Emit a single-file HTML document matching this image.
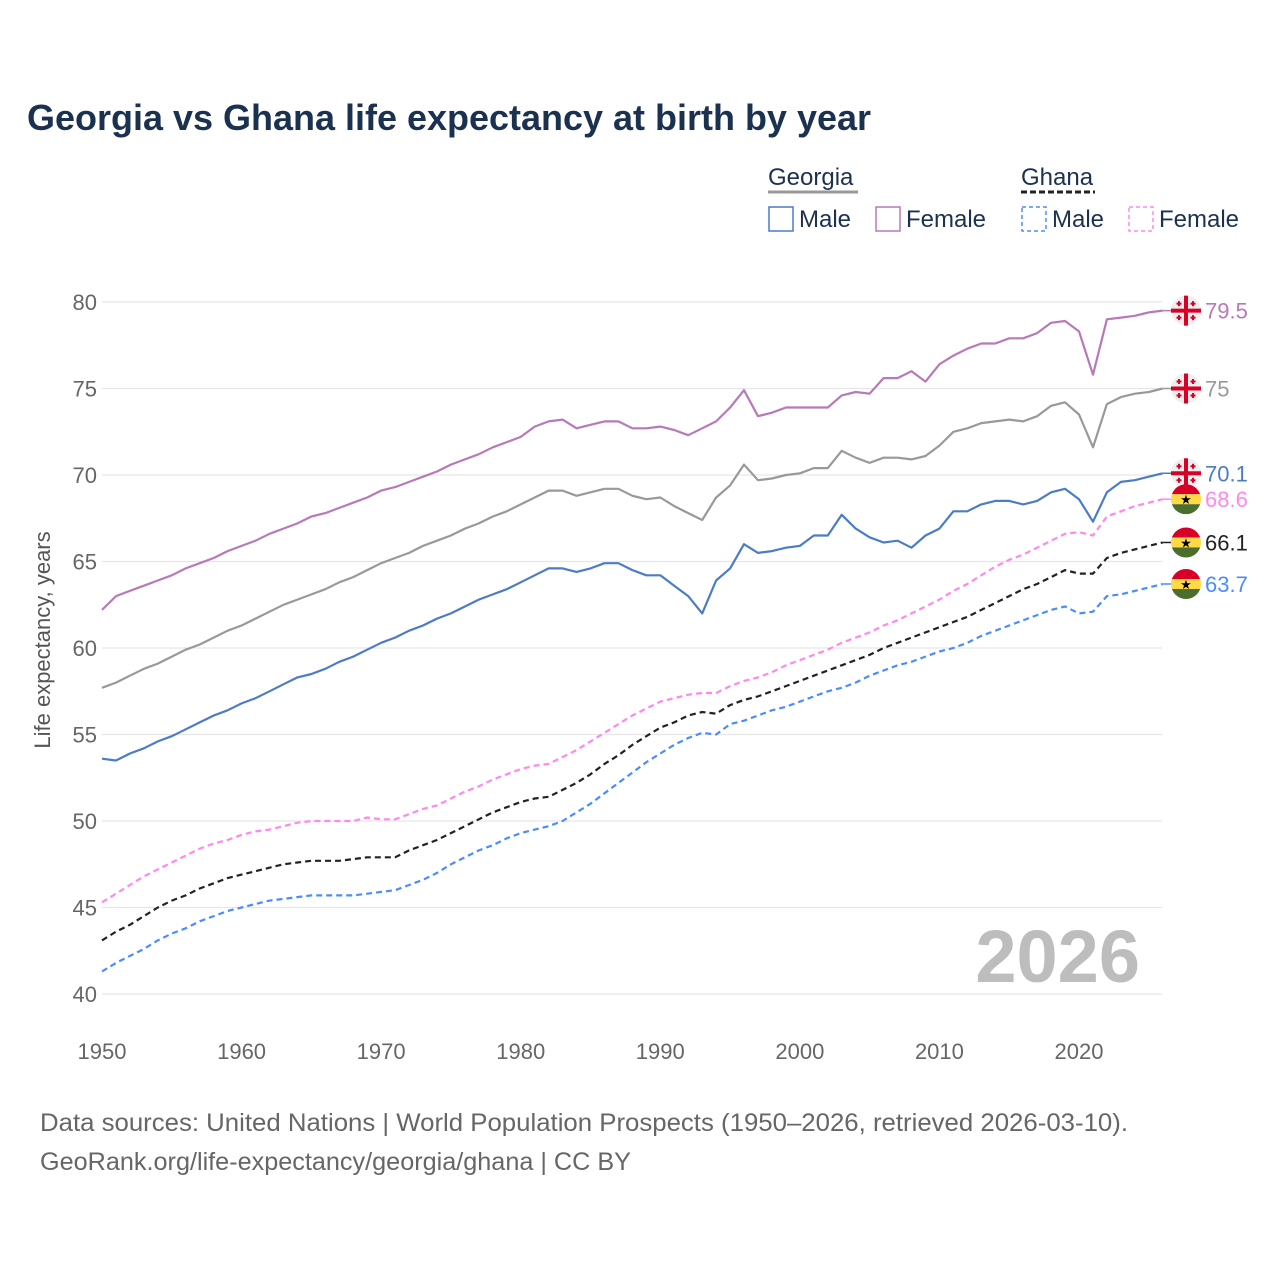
<!DOCTYPE html>
<html><head><meta charset="utf-8"><style>
body{margin:0;background:#fff;font-family:"Liberation Sans",sans-serif;}
svg text{font-family:"Liberation Sans",sans-serif;}
</style></head><body>
<svg id="chart" width="1280" height="1280" viewBox="0 0 1280 1280" xmlns="http://www.w3.org/2000/svg">
<rect width="1280" height="1280" fill="#fff"/>
<text x="27" y="130" font-size="36" font-weight="bold" fill="#1b3150" textLength="844" lengthAdjust="spacingAndGlyphs">Georgia vs Ghana life expectancy at birth by year</text>
<g font-size="24" fill="#1b3150">
<text x="768" y="185">Georgia</text>
<line x1="768" y1="192" x2="858" y2="192" stroke="#999" stroke-width="3"/>
<text x="1021" y="185">Ghana</text>
<line x1="1021" y1="192" x2="1095" y2="192" stroke="#222" stroke-width="3" stroke-dasharray="6,3"/>
<g><rect x="769" y="207" width="24" height="24" fill="none" stroke="#4a7cc7" stroke-width="1.5"/><text x="799" y="227">Male</text></g>
<g><rect x="876" y="207" width="24" height="24" fill="none" stroke="#b879b8" stroke-width="1.5"/><text x="906" y="227">Female</text></g>
<g><rect x="1022" y="207" width="24" height="24" fill="none" stroke="#4a8dff" stroke-width="1.5" stroke-dasharray="4,3"/><text x="1052" y="227">Male</text></g>
<g><rect x="1129" y="207" width="24" height="24" fill="none" stroke="#ff88ee" stroke-width="1.5" stroke-dasharray="4,3"/><text x="1159" y="227">Female</text></g>
</g>
<g id="grid"></g>
<g id="axes"></g>
<text x="1140" y="982" font-size="74" font-weight="bold" fill="#bdbdbd" text-anchor="end">2026</text>
<text transform="translate(50,640) rotate(-90)" font-size="22" fill="#555" text-anchor="middle">Life expectancy, years</text>
<g id="series"></g>
<g id="ends"></g>
<text x="40" y="1131" font-size="25" fill="#666" textLength="1088" lengthAdjust="spacingAndGlyphs">Data sources: United Nations | World Population Prospects (1950–2026, retrieved 2026-03-10).</text>
<text x="40" y="1170" font-size="25" fill="#666" textLength="591" lengthAdjust="spacingAndGlyphs">GeoRank.org/life-expectancy/georgia/ghana | CC BY</text>
</svg>
<script>
const startYear = 1950;
const endYear = 2026;
const yTicks = [40,45,50,55,60,65,70,75,80];
const xTicks = [1950,1960,1970,1980,1990,2000,2010,2020];
const georgiaFemale = [62.2,63.0,63.3,63.6,63.9,64.2,64.6,64.9,65.2,65.6,65.9,66.2,66.6,66.9,67.2,67.6,67.8,68.1,68.4,68.7,69.1,69.3,69.6,69.9,70.2,70.6,70.9,71.2,71.6,71.9,72.2,72.8,73.1,73.2,72.7,72.9,73.1,73.1,72.7,72.7,72.8,72.6,72.3,72.7,73.1,73.9,74.9,73.4,73.6,73.9,73.9,73.9,73.9,74.6,74.8,74.7,75.6,75.6,76.0,75.4,76.4,76.9,77.3,77.6,77.6,77.9,77.9,78.2,78.8,78.9,78.3,75.8,79.0,79.1,79.2,79.4,79.5];
const georgiaTotal = [57.7,58.0,58.4,58.8,59.1,59.5,59.9,60.2,60.6,61.0,61.3,61.7,62.1,62.5,62.8,63.1,63.4,63.8,64.1,64.5,64.9,65.2,65.5,65.9,66.2,66.5,66.9,67.2,67.6,67.9,68.3,68.7,69.1,69.1,68.8,69.0,69.2,69.2,68.8,68.6,68.7,68.2,67.8,67.4,68.7,69.4,70.6,69.7,69.8,70.0,70.1,70.4,70.4,71.4,71.0,70.7,71.0,71.0,70.9,71.1,71.7,72.5,72.7,73.0,73.1,73.2,73.1,73.4,74.0,74.2,73.5,71.6,74.1,74.5,74.7,74.8,75.0];
const georgiaMale = [53.6,53.5,53.9,54.2,54.6,54.9,55.3,55.7,56.1,56.4,56.8,57.1,57.5,57.9,58.3,58.5,58.8,59.2,59.5,59.9,60.3,60.6,61.0,61.3,61.7,62.0,62.4,62.8,63.1,63.4,63.8,64.2,64.6,64.6,64.4,64.6,64.9,64.9,64.5,64.2,64.2,63.6,63.0,62.0,63.9,64.6,66.0,65.5,65.6,65.8,65.9,66.5,66.5,67.7,66.9,66.4,66.1,66.2,65.8,66.5,66.9,67.9,67.9,68.3,68.5,68.5,68.3,68.5,69.0,69.2,68.6,67.3,69.0,69.6,69.7,69.9,70.1];
const ghanaFemale = [45.3,45.8,46.3,46.8,47.2,47.6,48.0,48.4,48.7,48.9,49.2,49.4,49.5,49.7,49.9,50.0,50.0,50.0,50.0,50.2,50.1,50.1,50.4,50.7,50.9,51.3,51.7,52.0,52.4,52.7,53.0,53.2,53.3,53.7,54.1,54.6,55.1,55.6,56.1,56.5,56.9,57.1,57.3,57.4,57.4,57.8,58.1,58.3,58.6,59.0,59.3,59.6,59.9,60.3,60.6,60.9,61.3,61.6,62.0,62.4,62.8,63.3,63.7,64.2,64.7,65.1,65.4,65.8,66.2,66.6,66.7,66.5,67.6,67.9,68.2,68.4,68.6];
const ghanaTotal = [43.1,43.6,44.0,44.5,45.0,45.4,45.7,46.1,46.4,46.7,46.9,47.1,47.3,47.5,47.6,47.7,47.7,47.7,47.8,47.9,47.9,47.9,48.3,48.6,48.9,49.3,49.7,50.1,50.5,50.8,51.1,51.3,51.4,51.8,52.2,52.7,53.3,53.8,54.4,54.9,55.4,55.7,56.1,56.3,56.2,56.7,57.0,57.2,57.5,57.8,58.1,58.4,58.7,59.0,59.3,59.6,60.0,60.3,60.6,60.9,61.2,61.5,61.8,62.2,62.6,63.0,63.4,63.7,64.1,64.5,64.3,64.3,65.2,65.5,65.7,65.9,66.1];
const ghanaMale = [41.3,41.8,42.2,42.6,43.1,43.5,43.8,44.2,44.5,44.8,45.0,45.2,45.4,45.5,45.6,45.7,45.7,45.7,45.7,45.8,45.9,46.0,46.3,46.6,47.0,47.5,47.9,48.3,48.6,49.0,49.3,49.5,49.7,50.0,50.5,51.0,51.6,52.2,52.8,53.4,53.9,54.4,54.8,55.1,55.0,55.6,55.8,56.1,56.4,56.6,56.9,57.2,57.5,57.7,58.0,58.4,58.7,59.0,59.2,59.5,59.8,60.0,60.3,60.7,61.0,61.3,61.6,61.9,62.2,62.4,62.0,62.1,63.0,63.1,63.3,63.5,63.7];

const NS="http://www.w3.org/2000/svg";
function xs(yr){return 102+(yr-1950)*(1079-102)/70;}
function ys(v){return 994-(v-40)*(994-302)/40;}
function mk(tag,attrs,parent){const e=document.createElementNS(NS,tag);for(const k in attrs)e.setAttribute(k,attrs[k]);parent.appendChild(e);return e;}
const grid=document.getElementById('grid'),axes=document.getElementById('axes'),series=document.getElementById('series'),ends=document.getElementById('ends');
yTicks.forEach(t=>{
  const l=mk('line',{x1:102,x2:1162,y1:ys(t),y2:ys(t),stroke:'#e6e6e6','stroke-width':1.2},grid);
  
  
  const tx=mk('text',{x:97,y:ys(t)+8,'font-size':22,fill:'#666','text-anchor':'end'},axes);
  tx.textContent=t;
  
  
});
xTicks.forEach(t=>{
  const tx=mk('text',{x:xs(t),y:1059,'font-size':22,fill:'#666','text-anchor':'middle'},axes);
  tx.textContent=t;
  
  
});
const defs=[
 {d:georgiaFemale,c:'#b879b8',dash:null,lc:'#b879b8',flag:'ge',n:'georgia-female'},
 {d:georgiaTotal,c:'#999999',dash:null,lc:'#999999',flag:'ge',n:'georgia-total'},
 {d:georgiaMale,c:'#4a7cc7',dash:null,lc:'#4a7cc7',flag:'ge',n:'georgia-male'},
 {d:ghanaFemale,c:'#ff88ee',dash:'6,4',lc:'#ff88ee',flag:'gh',n:'ghana-female'},
 {d:ghanaTotal,c:'#222222',dash:'6,4',lc:'#222222',flag:'gh',n:'ghana-total'},
 {d:ghanaMale,c:'#4a8dff',dash:'6,4',lc:'#4a8dff',flag:'gh',n:'ghana-male'}
];
defs.forEach(s=>{
  const pts=s.d.map((v,i)=>xs(startYear+i).toFixed(1)+','+ys(v).toFixed(1)).join(' ');
  const a={points:pts,fill:'none',stroke:s.c,'stroke-width':2.2,'stroke-linejoin':'round'};
  if(s.dash)a['stroke-dasharray']=s.dash;
  const pl=mk('polyline',a,series);
  
  
  const last=s.d[s.d.length-1];const y=ys(last);const x0=xs(endYear);
  const g=mk('g',{},ends);
  
  
  mk('line',{x1:x0,x2:1172,y1:y,y2:y,stroke:s.c,'stroke-width':1.5},g);
  const cx=1186;
  if(s.flag==='ge'){
    mk('circle',{cx:cx,cy:y,r:15,fill:'#eee'},g);
    mk('rect',{x:cx-15,y:y-2,width:30,height:4,fill:'#d80027'},g);
    mk('rect',{x:cx-2,y:y-15,width:4,height:30,fill:'#d80027'},g);
    [[-7,-7],[7,-7],[-7,7],[7,7]].forEach(p=>{mk('rect',{x:cx+p[0]-2.5,y:y+p[1]-1,width:5,height:2,fill:'#d80027'},g);mk('rect',{x:cx+p[0]-1,y:y+p[1]-2.5,width:2,height:5,fill:'#d80027'},g);});
  } else {
    const cid='c'+s.n;
    const cp=mk('clipPath',{id:cid},g);mk('circle',{cx:cx,cy:y,r:15},cp);
    const gg=mk('g',{'clip-path':'url(#'+cid+')'},g);
    mk('rect',{x:cx-15,y:y-15,width:30,height:10,fill:'#d80027'},gg);
    mk('rect',{x:cx-15,y:y-5,width:30,height:10,fill:'#ffda44'},gg);
    mk('rect',{x:cx-15,y:y+5,width:30,height:10,fill:'#496e2d'},gg);
    const st=mk('text',{x:cx,y:y+5,'font-size':13,fill:'#000','text-anchor':'middle'},g);st.textContent='★';
  }
  const tx=mk('text',{x:1205,y:y+8,'font-size':22,fill:s.lc},g);
  tx.textContent=String(last);
});
</script>
</body></html>
